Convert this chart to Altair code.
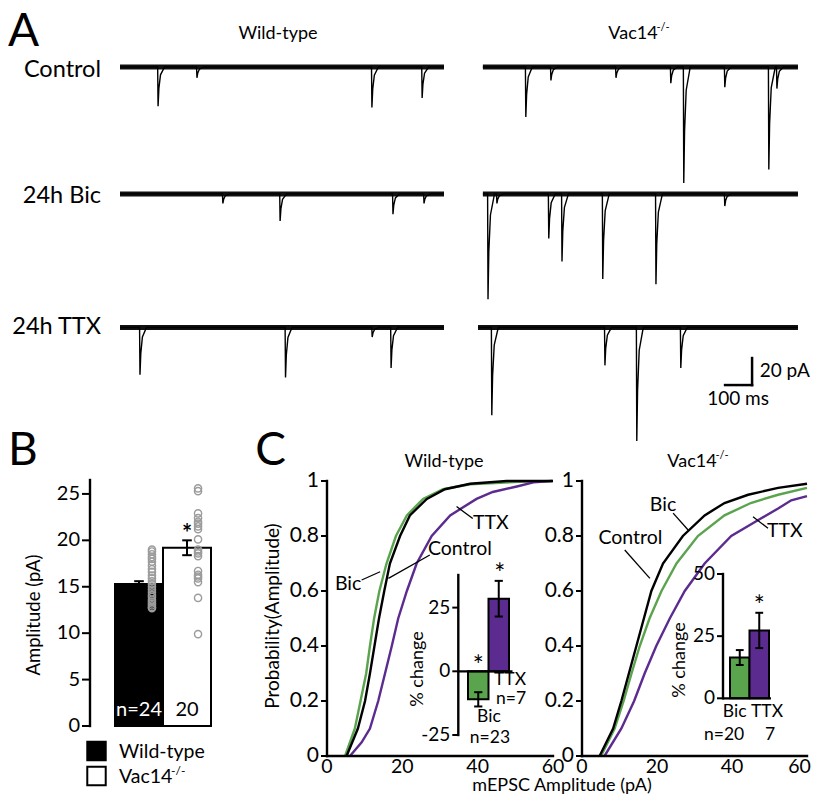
import altair as alt
import pandas as pd

FONT = "Lato"
GREEN = "#5ba44e"
PURPLE = "#5b2b8f"
DOT_GRAY = "#9c9c9c"

# ---------------- Panel A : events ----------------
# time (ms from trace start), amplitude (pA, inward = downward)
wt_control_t = [141, 285, 933, 1119]
wt_control_a = [29, 8, 30, 23]
wt_bic_t = [381, 593, 1011, 1126]
wt_bic_a = [7, 20, 15, 7]
wt_ttx_t = [74, 613, 934, 1004]
wt_ttx_a = [35, 37, 7, 30]
ko_control_t = [159, 252, 493, 696, 744, 896, 1059, 1089]
ko_control_a = [37, 10, 8, 12, 86, 15, 76, 16]
ko_bic_t = [19, 52, 244, 293, 444, 641, 896]
ko_bic_a = [78, 7, 33, 50, 63, 67, 9]
ko_ttx_t = [33, 452, 570, 733]
ko_ttx_a = [65, 28, 84, 30]
trace_start = [0, 0, 0, 0, 0, -18]
trace_end = [1200, 1200, 1200, 1167, 1167, 1167]
row_labels = ["Control", "24h Bic", "24h TTX"]
scale_bar_ms = 100
scale_bar_pA = 20

# ---------------- Panel B ----------------
b_groups = ["Wild-type", "Vac14-/-"]
b_means = [15.3, 19.2]
b_sem = [0.3, 0.8]
b_n = ["n=24", "20"]
b_ticks = [0, 5, 10, 15, 20, 25]
wt_cells = [19.0, 18.8, 18.5, 18.2, 18.0, 17.7, 17.3, 16.9, 16.6, 16.2, 15.9, 15.6,
            15.3, 15.0, 14.7, 14.4, 14.1, 13.9, 13.6, 13.4, 13.2, 13.0, 12.8, 12.7]
ko_cells = [25.6, 25.3, 22.9, 22.4, 22.0, 21.8, 21.5, 21.2, 20.1, 19.0, 18.8, 18.6,
            18.3, 16.7, 16.3, 16.1, 15.9, 15.5, 13.8, 9.9]

# ---------------- Panel C : cumulative distributions ----------------
wt_bic_amp = [4.8, 7.4, 8.9, 10.4, 11.4, 12.5, 13.9, 15.8, 18.3, 21.2, 25.5, 30.8, 38, 51, 60]
wt_bic_p = [0, .1, .2, .3, .4, .5, .6, .7, .8, .875, .935, .97, .988, .997, 1]
wt_ctl_amp = [5.2, 8.2, 10.1, 11.4, 12.6, 13.8, 15.2, 16.7, 19.4, 22, 26.5, 31.3, 38, 47.7, 60]
wt_ctl_p = [0, .1, .2, .3, .4, .5, .6, .7, .8, .875, .935, .97, .99, 1, 1]
wt_ttx_amp = [6.1, 9.2, 11.4, 13.6, 15.4, 17.2, 18.9, 21.2, 23.8, 27.8, 32.7, 39.7, 44, 50.4, 54.8, 59.7]
wt_ttx_p = [0, .05, .1, .2, .3, .4, .5, .6, .7, .8, .875, .935, .96, .98, .995, 1]

ko_ctl_amp = [4.7, 8.3, 10.5, 12.5, 14.5, 16.5, 18.5, 21.6, 26.9, 32.7, 38, 44.3, 52.3, 60]
ko_ctl_p = [0, .1, .2, .3, .4, .5, .6, .7, .8, .875, .92, .95, .975, .99]
ko_bic_amp = [5.1, 8.7, 11.1, 13.2, 15.4, 18, 21.2, 25.2, 30.9, 38, 45, 52.3, 60]
ko_bic_p = [0, .1, .2, .3, .4, .5, .6, .7, .8, .875, .92, .95, .975]
ko_ttx_amp = [6, 10.5, 13.9, 16.7, 19.8, 23.4, 27.4, 32.7, 39.8, 46, 52.3, 55.8, 60]
ko_ttx_p = [0, .1, .2, .3, .4, .5, .6, .7, .8, .85, .9, .93, .945]
cdf_y_ticks = [0, 0.2, 0.4, 0.6, 0.8, 1]
cdf_y_labels = ["0", "0.2", "0.4", "0.6", "0.8", "1"]
cdf_x_ticks = [0, 20, 40, 60]

inset_groups = ["Bic", "TTX"]
wt_change = [-11.0, 28.5]
wt_change_sem = [2.8, 7.0]
ko_change = [16.4, 27.3]
ko_change_sem = [3.0, 7.1]
wt_inset_ticks = [-25, 0, 25]
ko_inset_ticks = [0, 25, 50]

# ======================================================================
def S(domain, rng):
    return alt.Scale(domain=domain, range=rng, nice=False, zero=False)


def ppu(domain, rng):
    return abs((rng[1] - rng[0]) / (domain[1] - domain[0]))


def label(text, x, y, size, align="center", color="black", weight="normal", baseline="middle", angle=0):
    return alt.Chart(pd.DataFrame({"t": [text]})).mark_text(
        fontSize=size, align=align, baseline=baseline, color=color, fontWeight=weight, font=FONT,
        angle=angle
    ).encode(text="t:N", x=alt.value(x - 8), y=alt.value(y - 8))


def y_axis(xs, ys, ax_x, lo, hi, ticks, labels, tick_len, size, gap=3):
    dom = pd.DataFrame({"x": [ax_x], "y": [lo], "y2": [hi]})
    tdf = pd.DataFrame({"x": [ax_x - tick_len] * len(ticks), "x2": [ax_x] * len(ticks),
                        "y": ticks, "lab": labels})
    d = alt.Chart(dom).mark_rule(color="black", strokeWidth=2.4, strokeCap="square").encode(
        x=alt.X("x:Q", scale=xs, axis=None), y=alt.Y("y:Q", scale=ys, axis=None), y2="y2:Q")
    t = alt.Chart(tdf).mark_rule(color="black", strokeWidth=2).encode(
        x=alt.X("x:Q", scale=xs, axis=None), x2="x2:Q", y=alt.Y("y:Q", scale=ys, axis=None))
    lab = alt.Chart(tdf).mark_text(align="right", baseline="middle", fontSize=size, dx=-gap).encode(
        x=alt.X("x:Q", scale=xs, axis=None), y=alt.Y("y:Q", scale=ys, axis=None), text="lab:N")
    return [d, t, lab]


def x_axis(xs, ys, ax_y, lo, hi, ticks, size, gap=5, last_shift=0.0):
    dom = pd.DataFrame({"x": [lo], "x2": [hi], "y": [ax_y]})
    tdf = pd.DataFrame({"x": ticks, "y": [ax_y] * len(ticks), "lab": [str(v) for v in ticks]})
    tdf["xl"] = tdf["x"]
    tdf.loc[tdf.index[-1], "xl"] = tdf["x"].iloc[-1] + last_shift
    d = alt.Chart(dom).mark_rule(color="black", strokeWidth=2.4, strokeCap="square").encode(
        x=alt.X("x:Q", scale=xs, axis=None), x2="x2:Q", y=alt.Y("y:Q", scale=ys, axis=None))
    lab = alt.Chart(tdf).mark_text(align="center", baseline="top", fontSize=size, dy=gap).encode(
        x=alt.X("xl:Q", scale=xs, axis=None), y=alt.Y("y:Q", scale=ys, axis=None), text="lab:N")
    return [d, lab]


# ---------------- Panel A ----------------
A_X = S([0, 2540], [112, 112 + 2540 * 0.27])
A_Y = S([-300, 40], [59 + 300 * 1.35, 59 - 40 * 1.35])
col_off = [0, 1344]
row_off = [0, -94, -193]

specs = [
    (0, 0, wt_control_t, wt_control_a), (0, 1, wt_bic_t, wt_bic_a), (0, 2, wt_ttx_t, wt_ttx_a),
    (1, 0, ko_control_t, ko_control_a), (1, 1, ko_bic_t, ko_bic_a), (1, 2, ko_ttx_t, ko_ttx_a),
]
pts, base = [], []
for i, (c, r, ts, amps) in enumerate(specs):
    x0, y0 = col_off[c], row_off[r]
    seq = [(trace_start[i], 0.0)]
    for t, a in sorted(zip(ts, amps)):
        seq += [(t - 1.5, 0.0), (t, -a), (t + 3, -0.55 * a), (t + 9, -0.2 * a), (t + 24, 0.0)]
    seq.append((trace_end[i], 0.0))
    for k, (t, v) in enumerate(seq):
        pts.append({"trace": i, "k": k, "ms": x0 + t, "pA": y0 + v})
    base.append({"ms": x0 + trace_start[i], "ms2": x0 + trace_end[i], "pA": y0})
pts_df = pd.DataFrame(pts)
base_df = pd.DataFrame(base)

a_base = alt.Chart(base_df).mark_rule(color="#111", strokeWidth=5).encode(
    x=alt.X("ms:Q", scale=A_X, axis=None), x2="ms2:Q", y=alt.Y("pA:Q", scale=A_Y, axis=None))
a_lines = alt.Chart(pts_df).mark_line(color="black", strokeWidth=1.4).encode(
    x=alt.X("ms:Q", scale=A_X, axis=None), y=alt.Y("pA:Q", scale=A_Y, axis=None),
    detail="trace:N", order="k:Q")

bar_x, bar_y = 2341, -235.6
sb_df = pd.DataFrame({
    "x": [bar_x - scale_bar_ms, bar_x], "x2": [bar_x, bar_x],
    "y": [bar_y, bar_y], "y2": [bar_y, bar_y + scale_bar_pA]})
a_sb = alt.Chart(sb_df).mark_rule(color="black", strokeWidth=2.5, strokeCap="square").encode(
    x=alt.X("x:Q", scale=A_X, axis=None), x2="x2:Q",
    y=alt.Y("y:Q", scale=A_Y, axis=None), y2="y2:Q")
sb_txt = pd.DataFrame({"x": [bar_x + 28, bar_x - scale_bar_ms / 2 - 2],
                       "y": [bar_y + scale_bar_pA / 2 + 0.5, bar_y - 10.5],
                       "t": [f"{scale_bar_pA} pA", f"{scale_bar_ms} ms"]})
a_sbt1 = alt.Chart(sb_txt.iloc[[0]]).mark_text(fontSize=19, align="left", baseline="middle").encode(
    x=alt.X("x:Q", scale=A_X, axis=None), y=alt.Y("y:Q", scale=A_Y, axis=None), text="t:N")
a_sbt2 = alt.Chart(sb_txt.iloc[[1]]).mark_text(fontSize=19, align="center", baseline="middle").encode(
    x=alt.X("x:Q", scale=A_X, axis=None), y=alt.Y("y:Q", scale=A_Y, axis=None), text="t:N")
panelA = alt.layer(a_base, a_lines, a_sb, a_sbt1, a_sbt2)

# ---------------- Panel B ----------------
B_XD, B_XR = [0, 2], [107, 203]
B_YD, B_YR = [0, 26.5], [718, 472]
B_X = S(B_XD, B_XR)
B_Y = S(B_YD, B_YR)
b_axis_x = (82 - 107) / ppu(B_XD, B_XR)
bdf = pd.DataFrame({"g": b_groups, "x0": [0, 1], "x1": [1, 2], "m": b_means, "s": b_sem,
                    "fill": ["black", "white"], "n": b_n, "ncol": ["white", "black"]})
bdf["lo"] = bdf.m - bdf.s
bdf["hi"] = bdf.m + bdf.s
bdf["c"] = bdf.x0 + 0.5
bdf["cl"] = bdf.c - 0.1
bdf["cr"] = bdf.c + 0.1
bdf["zero"] = 0.0
bdf["ny"] = 1.7

b_bars = alt.Chart(bdf).mark_rect(stroke="black", strokeWidth=2).encode(
    x=alt.X("x0:Q", scale=B_X, axis=None), x2="x1:Q",
    y=alt.Y("m:Q", scale=B_Y, axis=None), y2="zero:Q", fill=alt.Fill("fill:N", scale=None))
b_err = alt.Chart(bdf).mark_rule(color="black", strokeWidth=2).encode(
    x=alt.X("c:Q", scale=B_X, axis=None), y=alt.Y("lo:Q", scale=B_Y, axis=None), y2="hi:Q")
b_cap1 = alt.Chart(bdf).mark_rule(color="black", strokeWidth=2).encode(
    x=alt.X("cl:Q", scale=B_X, axis=None), x2="cr:Q", y=alt.Y("hi:Q", scale=B_Y, axis=None))
b_cap2 = alt.Chart(bdf).mark_rule(color="black", strokeWidth=2).encode(
    x=alt.X("cl:Q", scale=B_X, axis=None), x2="cr:Q", y=alt.Y("lo:Q", scale=B_Y, axis=None))
dots = pd.DataFrame({"x": [0.77] * len(wt_cells) + [1.73] * len(ko_cells), "v": wt_cells + ko_cells})
b_dots = alt.Chart(dots).mark_point(shape="circle", size=52, filled=False, color=DOT_GRAY,
                                    strokeWidth=1.4, opacity=1).encode(
    x=alt.X("x:Q", scale=B_X, axis=None), y=alt.Y("v:Q", scale=B_Y, axis=None))
b_n_txt = alt.Chart(bdf).mark_text(fontSize=20, baseline="middle", font=FONT).encode(
    x=alt.X("c:Q", scale=B_X, axis=None), y=alt.Y("ny:Q", scale=B_Y, axis=None),
    text="n:N", color=alt.Color("ncol:N", scale=None))
b_star = alt.Chart(bdf.iloc[[1]]).mark_text(fontSize=24, fontWeight="bold", baseline="middle", dy=-5).encode(
    x=alt.X("c:Q", scale=B_X, axis=None), y=alt.Y("hi:Q", scale=B_Y, axis=None), text=alt.value("*"))
b_ax = y_axis(B_X, B_Y, b_axis_x, 0, 26.5, b_ticks, [str(v) for v in b_ticks],
              8 / ppu(B_XD, B_XR), 20, gap=2)
panelB = alt.layer(b_bars, b_err, b_cap1, b_cap2, b_dots, b_n_txt, b_star, *b_ax)

# legend of panel B
leg_sq = pd.DataFrame({"fill": ["black", "white"], "y": [751 - 8, 776 - 8]})
b_leg = alt.Chart(leg_sq).mark_square(size=340, stroke="black", strokeWidth=2, opacity=1).encode(
    x=alt.value(96.5 - 8), y=alt.Y("y:Q", scale=None), fill=alt.Fill("fill:N", scale=None))

# ---------------- Panel C ----------------
C_YD, C_YR = [0, 1], [748, 473]
C_Y = S(C_YD, C_YR)
CL_XD, CL_XR = [0, 60], [319, 545]
CR_XD, CR_XR = [0, 60], [574, 799]
CL_X = S(CL_XD, CL_XR)
CR_X = S(CR_XD, CR_XR)


def cdf_df(curves):
    rows = []
    for name, col, amps, ps in curves:
        for k, (a, p) in enumerate(zip(amps, ps)):
            rows.append({"cond": name, "col": col, "k": k, "amp": a, "p": p})
    return pd.DataFrame(rows)


def cdf_panel(df, xs, xd, xr, ann, last_shift=0.0):
    lines = alt.Chart(df).mark_line(strokeWidth=2.4).encode(
        x=alt.X("amp:Q", scale=xs, axis=None), y=alt.Y("p:Q", scale=C_Y, axis=None),
        stroke=alt.Stroke("col:N", scale=None), detail="cond:N", order="k:Q")
    adf = pd.DataFrame(ann, columns=["t", "tx", "ty", "x1", "y1", "x2", "y2"])
    lead = alt.Chart(adf).mark_rule(color="black", strokeWidth=1.3).encode(
        x=alt.X("x1:Q", scale=xs, axis=None), x2="x2:Q",
        y=alt.Y("y1:Q", scale=C_Y, axis=None), y2="y2:Q")
    txt = alt.Chart(adf).mark_text(fontSize=19.5, baseline="middle", align="center").encode(
        x=alt.X("tx:Q", scale=xs, axis=None), y=alt.Y("ty:Q", scale=C_Y, axis=None), text="t:N")
    yax = y_axis(xs, C_Y, 0, 0, 1, cdf_y_ticks, cdf_y_labels, 6 / ppu(xd, xr), 21, gap=2)
    xax = x_axis(xs, C_Y, 0, 0, 60, cdf_x_ticks, 19.5, gap=2, last_shift=last_shift)
    return alt.layer(lines, lead, txt, *yax, *xax)


wt_df = cdf_df([("Bic", GREEN, wt_bic_amp, wt_bic_p), ("TTX", PURPLE, wt_ttx_amp, wt_ttx_p),
                ("Control", "black", wt_ctl_amp, wt_ctl_p)])
ko_df = cdf_df([("TTX", PURPLE, ko_ttx_amp, ko_ttx_p), ("Bic", GREEN, ko_bic_amp, ko_bic_p),
                ("Control", "black", ko_ctl_amp, ko_ctl_p)])
wt_ann = [("TTX", 43.5, 0.849, 34.4, 0.907, 38.7, 0.864),
          ("Control", 35.3, 0.753, 27.3, 0.731, 16.3, 0.646),
          ("Bic", 5.6, 0.625, 9.2, 0.640, 14.1, 0.670)]
ko_ann = [("Bic", 21.6, 0.913, 24.3, 0.883, 28.3, 0.822),
          ("Control", 12.9, 0.791, 11.4, 0.749, 18.1, 0.646),
          ("TTX", 54.1, 0.820, 45.6, 0.870, 49.6, 0.828)]
panelCL = cdf_panel(wt_df, CL_X, CL_XD, CL_XR, wt_ann)
# the last label of the right panel is nudged inward so it stays inside the page
panelCR = cdf_panel(ko_df, CR_X, CR_XD, CR_XR, ko_ann, last_shift=-2.0)


def inset(vals, sems, xd, xr, yd, yr, ax_x, ax_lo, ax_hi, ticks, zero_ext, labels):
    xs, ys = S(xd, xr), S(yd, yr)
    df = pd.DataFrame({"g": inset_groups, "x0": [0, 1], "x1": [1, 2], "m": vals, "s": sems,
                       "fill": [GREEN, PURPLE]})
    df["lo"] = df.m - df.s
    df["hi"] = df.m + df.s
    df["c"] = df.x0 + 0.5
    df["cl"] = df.c - 0.2
    df["cr"] = df.c + 0.2
    df["zero"] = 0.0
    bars = alt.Chart(df).mark_rect(stroke="black", strokeWidth=2).encode(
        x=alt.X("x0:Q", scale=xs, axis=None), x2="x1:Q",
        y=alt.Y("m:Q", scale=ys, axis=None), y2="zero:Q", fill=alt.Fill("fill:N", scale=None))
    zdf = pd.DataFrame({"x": [zero_ext[0]], "x2": [zero_ext[1]], "y": [0.0]})
    zl = alt.Chart(zdf).mark_rule(color="black", strokeWidth=2.2).encode(
        x=alt.X("x:Q", scale=xs, axis=None), x2="x2:Q", y=alt.Y("y:Q", scale=ys, axis=None))
    err = alt.Chart(df).mark_rule(color="black", strokeWidth=2).encode(
        x=alt.X("c:Q", scale=xs, axis=None), y=alt.Y("lo:Q", scale=ys, axis=None), y2="hi:Q")
    c1 = alt.Chart(df).mark_rule(color="black", strokeWidth=2).encode(
        x=alt.X("cl:Q", scale=xs, axis=None), x2="cr:Q", y=alt.Y("hi:Q", scale=ys, axis=None))
    c2 = alt.Chart(df).mark_rule(color="black", strokeWidth=2).encode(
        x=alt.X("cl:Q", scale=xs, axis=None), x2="cr:Q", y=alt.Y("lo:Q", scale=ys, axis=None))
    ldf = pd.DataFrame(labels, columns=["t", "x", "y", "size"])
    txt = alt.Chart(ldf).mark_text(baseline="middle", align="center").encode(
        x=alt.X("x:Q", scale=xs, axis=None), y=alt.Y("y:Q", scale=ys, axis=None), text="t:N",
        size=alt.Size("size:Q", scale=None))
    yax = y_axis(xs, ys, ax_x, ax_lo, ax_hi, ticks, [str(v) for v in ticks],
                 6 / ppu(xd, xr), 19, gap=2)
    return alt.layer(bars, zl, err, c1, c2, txt, *yax)


# left inset: bars at page x 468-509, y zero at page 671.3
IL_XD, IL_XR = [0, 2], [460, 501]
IL_YD, IL_YR = [-25, 37.8], [727, 567]
IR_XD, IR_XR = [0, 2], [722, 761]
IR_YD, IR_YR = [0, 50], [690.3, 566]
il_ax = (450.3 - 460) / ppu(IL_XD, IL_XR)
ir_ax = (715 - 722) / ppu(IR_XD, IR_XR)
insetL = inset(wt_change, wt_change_sem, IL_XD, IL_XR, IL_YD, IL_YR, il_ax, -25, 37.8,
               wt_inset_ticks, [il_ax, 2.17],
               [("*", 0.5, 1.5, 26), ("*", 1.55, 37.8, 26), ("TTX", 2.05, -3.4, 17.5),
                ("n=7", 2.1, -11.0, 17.5), ("Bic", 1.02, -17.8, 17.5), ("n=23", 1.07, -26.0, 17.5)])
insetR = inset(ko_change, ko_change_sem, IR_XD, IR_XR, IR_YD, IR_YR, ir_ax, 0, 50,
               ko_inset_ticks, [ir_ax, 2.1],
               [("*", 1.5, 36.7, 26), ("Bic", 0.24, -5.5, 17.5), ("TTX", 1.9, -5.5, 17.5),
                ("n=20", -0.3, -14.9, 17.5), ("7", 2.05, -14.9, 17.5)])

# ---------------- free text ----------------
texts = [
    label("A", 8, 32, 46, align="left"), label("B", 8, 451, 46, align="left"),
    label("C", 270.5, 451, 46),
    label("Wild-type", 278, 34, 18), label("Vac14", 633, 34, 18), label("-/-", 663, 28, 11),
    label("Control", 101, 70, 23.5, align="right"), label("24h Bic", 101, 196, 23.5, align="right"),
    label("24h TTX", 101, 327, 23.5, align="right"),
    label("Wild-type", 444, 462, 18), label("Vac14", 692, 462, 18), label("-/-", 722, 456, 11),
    label("mEPSC Amplitude (pA)", 562, 786, 18),
    label("Amplitude (pA)", 34, 615, 18.5, angle=270),
    label("Probability(Amplitude)", 273, 616, 19, angle=270),
    label("% change", 418, 669, 18, angle=270),
    label("% change", 680, 660, 18, angle=270),
    label("Wild-type", 119, 752, 19.5, align="left"), label("Vac14", 119, 777, 19.5, align="left"),
    label("-/-", 171, 771, 12, align="left"),
]

chart = alt.layer(panelA, panelB, b_leg, panelCL, panelCR, insetL, insetR, *texts).resolve_scale(
    x="independent", y="independent"
).properties(
    width=804, height=788, padding=0, autosize=alt.AutoSizeParams(type="none")
).configure_view(stroke=None).configure_text(font=FONT, color="black")

chart.save("out.html", embed_options={"renderer": "svg", "actions": False})
